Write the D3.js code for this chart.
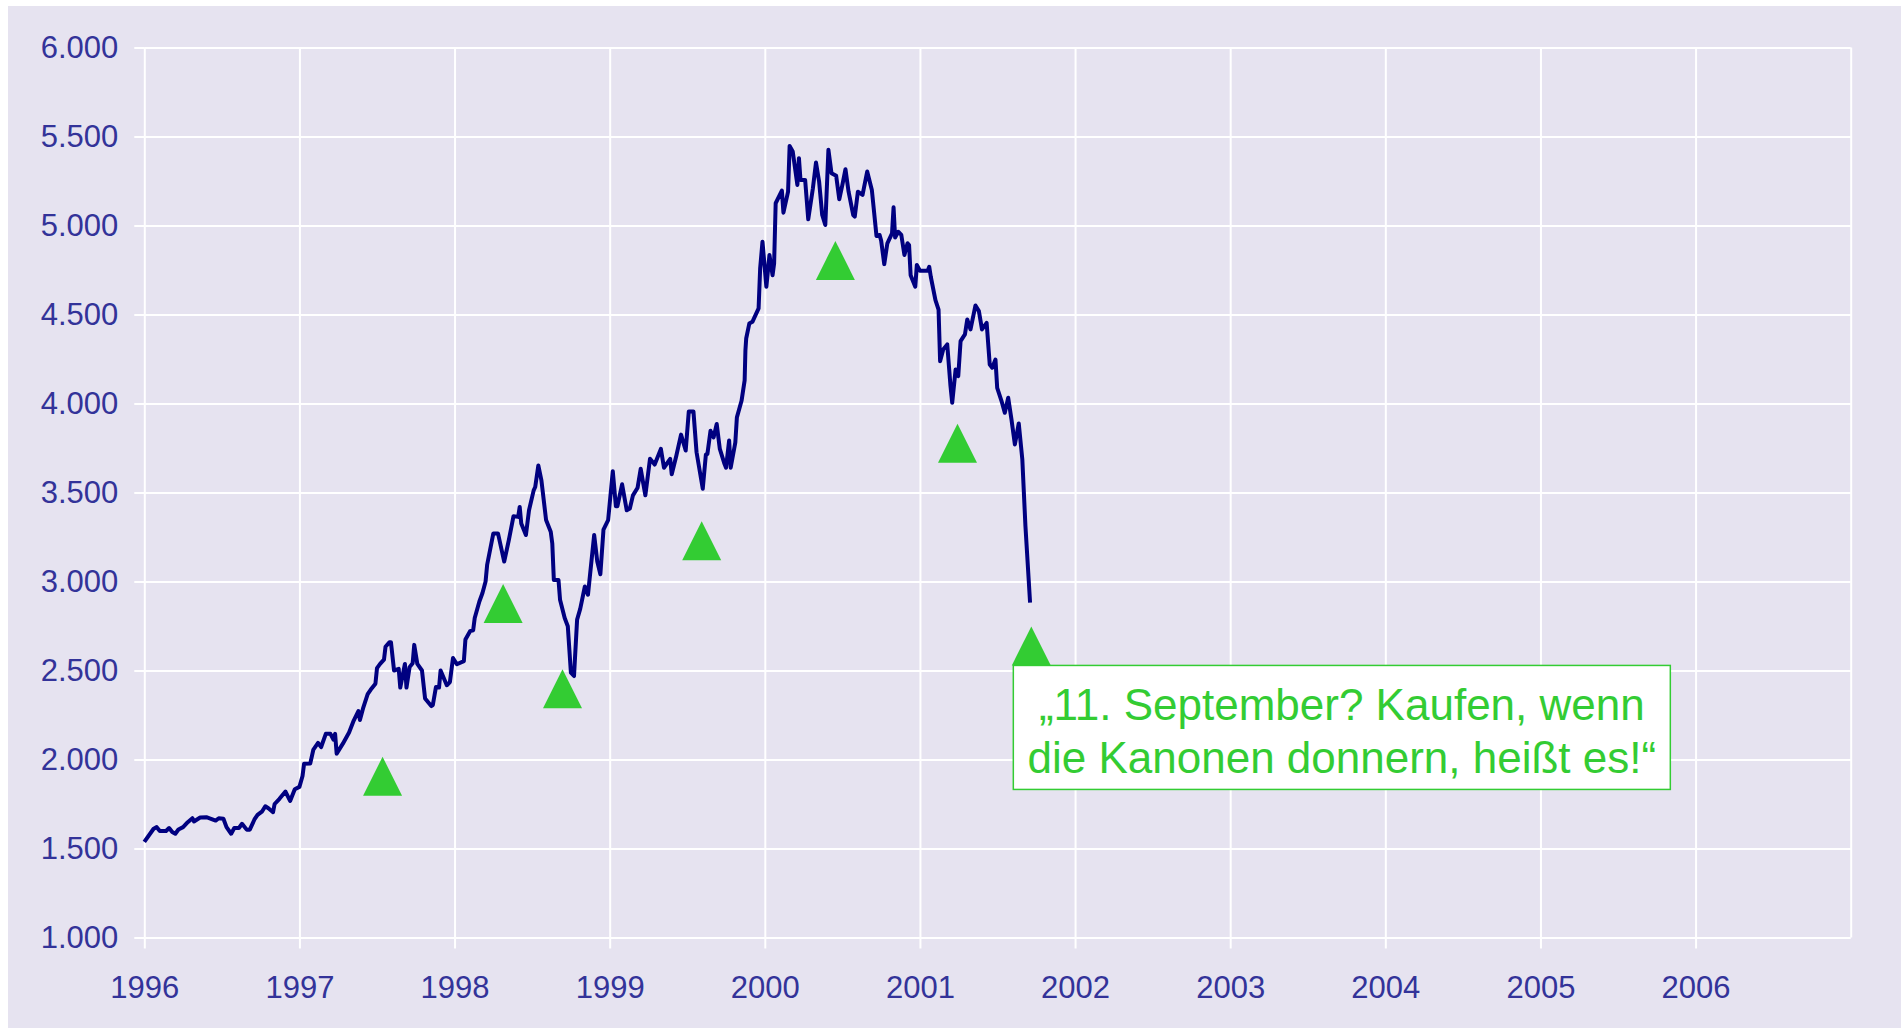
<!DOCTYPE html>
<html>
<head>
<meta charset="utf-8">
<script src="https://cdn.jsdelivr.net/npm/d3@7"></script>
<style>
  body { margin: 0; background: #ffffff; }
  svg { display: block; font-family: "Liberation Sans", Arial, sans-serif; }
  .grid line { stroke: #ffffff; stroke-width: 2; }
  .grid .domain { display: none; }
  .axis text { fill: #333399; font-size: 31px; }
  .axis line { stroke: #ffffff; stroke-width: 2; }
  .axis .domain { display: none; }
</style>
</head>
<body>
<script>

// index values (decimal years)
var weekYears = [
  1996.00, 1996.06, 1996.08, 1996.10, 1996.14, 1996.16, 1996.18, 1996.20, 1996.22, 1996.25,
  1996.28, 1996.31, 1996.32, 1996.36, 1996.40, 1996.43, 1996.46, 1996.48, 1996.51, 1996.53,
  1996.56, 1996.58, 1996.61, 1996.63, 1996.66, 1996.68, 1996.71, 1996.73, 1996.76, 1996.78,
  1996.80, 1996.83, 1996.84, 1996.87, 1996.91, 1996.94, 1996.97, 1997.00, 1997.02, 1997.03,
  1997.07, 1997.09, 1997.12, 1997.14, 1997.17, 1997.20, 1997.22, 1997.23, 1997.24, 1997.28,
  1997.32, 1997.35, 1997.38, 1997.39, 1997.41, 1997.44, 1997.46, 1997.49, 1997.50, 1997.52,
  1997.545, 1997.555, 1997.58, 1997.59, 1997.61, 1997.64, 1997.65, 1997.68, 1997.69, 1997.71,
  1997.73, 1997.74, 1997.76, 1997.79, 1997.81, 1997.85, 1997.86, 1997.88, 1997.90, 1997.91,
  1997.95, 1997.97, 1997.99, 1998.015, 1998.06, 1998.07, 1998.10, 1998.12, 1998.13, 1998.16,
  1998.18, 1998.20, 1998.21, 1998.25, 1998.28, 1998.32, 1998.35, 1998.38, 1998.41, 1998.42,
  1998.43, 1998.46, 1998.48, 1998.51, 1998.52, 1998.54, 1998.56, 1998.59, 1998.62, 1998.63,
  1998.64, 1998.67, 1998.68, 1998.71, 1998.73, 1998.75, 1998.77, 1998.79, 1998.81, 1998.84,
  1998.86, 1998.90, 1998.92, 1998.94, 1998.96, 1998.99, 1999.02, 1999.04, 1999.05, 1999.08,
  1999.11, 1999.13, 1999.15, 1999.18, 1999.20, 1999.23, 1999.26, 1999.29, 1999.33, 1999.35,
  1999.39, 1999.40, 1999.43, 1999.46, 1999.49, 1999.51, 1999.54, 1999.56, 1999.60, 1999.62,
  1999.63, 1999.65, 1999.67, 1999.69, 1999.71, 1999.74, 1999.75, 1999.77, 1999.78, 1999.81,
  1999.82, 1999.85, 1999.87, 1999.875, 1999.88, 1999.90, 1999.92, 1999.96, 1999.97, 1999.985,
  2000.01, 2000.03, 2000.05, 2000.06, 2000.07, 2000.11, 2000.12, 2000.15, 2000.16, 2000.18,
  2000.21, 2000.22, 2000.23, 2000.26, 2000.28, 2000.31, 2000.33, 2000.35, 2000.37, 2000.39,
  2000.41, 2000.43, 2000.46, 2000.48, 2000.50, 2000.52, 2000.54, 2000.57, 2000.58, 2000.60,
  2000.63, 2000.66, 2000.69, 2000.72, 2000.74, 2000.75, 2000.77, 2000.79, 2000.82, 2000.83,
  2000.84, 2000.86, 2000.88, 2000.90, 2000.92, 2000.93, 2000.94, 2000.97, 2000.98, 2001.00,
  2001.05, 2001.06, 2001.07, 2001.10, 2001.12, 2001.13, 2001.15, 2001.176, 2001.197, 2001.208,
  2001.23, 2001.247, 2001.262, 2001.29, 2001.305, 2001.326, 2001.358, 2001.38, 2001.40, 2001.43,
  2001.45, 2001.466, 2001.487, 2001.498, 2001.526, 2001.547, 2001.569, 2001.59, 2001.612, 2001.637,
  2001.66, 2001.68, 2001.71
];

var indexValues = [
  1537, 1611, 1620, 1598, 1598, 1615, 1593, 1583, 1607, 1620,
  1648, 1670, 1652, 1674, 1676, 1667, 1657, 1670, 1667, 1620,
  1583, 1615, 1615, 1639, 1606, 1606, 1663, 1689, 1709, 1737,
  1726, 1704, 1750, 1778, 1820, 1767, 1833, 1846, 1907, 1976,
  1978, 2056, 2093, 2070, 2144, 2144, 2111, 2144, 2033, 2089,
  2152, 2219, 2272, 2222, 2287, 2367, 2393, 2426, 2513, 2537,
  2561, 2633, 2659, 2659, 2500, 2509, 2404, 2537, 2404, 2519,
  2541, 2644, 2537, 2500, 2343, 2300, 2306, 2407, 2404, 2500,
  2417, 2435, 2570, 2535, 2553, 2674, 2721, 2726, 2795, 2888,
  2935, 3000, 3093, 3270, 3270, 3112, 3233, 3367, 3363, 3419,
  3326, 3261, 3400, 3512, 3531, 3652, 3568, 3345, 3279, 3214,
  3009, 3009, 2898, 2795, 2749, 2488, 2469, 2786, 2846, 2972,
  2926, 3261, 3112, 3041, 3292, 3345, 3620, 3423, 3423, 3546,
  3400, 3410, 3484, 3527, 3633, 3484, 3689, 3657, 3745, 3639,
  3689, 3602, 3708, 3825, 3736, 3955, 3955, 3726, 3521, 3713,
  3717, 3847, 3810, 3885, 3745, 3661, 3639, 3792, 3639, 3782,
  3922, 4015, 4130, 4299, 4365, 4449, 4459, 4534, 4759, 4909,
  4656, 4834, 4721, 4787, 5125, 5196, 5072, 5190, 5447, 5416,
  5228, 5378, 5256, 5256, 5035, 5209, 5354, 5247, 5059, 5003,
  5425, 5294, 5279, 5147, 5228, 5316, 5190, 5059, 5050, 5190,
  5172, 5303, 5200, 4941, 4947, 4915, 4783, 4900, 4956, 5102,
  4933, 4965, 4947, 4834, 4900, 4890, 4721, 4656, 4778, 4746,
  4746, 4768, 4712, 4581, 4528, 4238, 4304, 4332, 4098, 4004,
  4191, 4154, 4350, 4388, 4472, 4416, 4551, 4519, 4416, 4453,
  4219, 4201, 4247, 4088, 4014, 3948, 4032, 3911, 3770, 3888,
  3686, 3312, 2882
];

// green triangle markers
var markerYears = [1997.536, 1998.313, 1998.696, 1999.593, 2000.455, 2001.242, 2001.718];
var markerValues = [1906, 2877, 2397, 3229, 4804, 3777, 2638];

var xTickYears = [1996, 1997, 1998, 1999, 2000, 2001, 2002, 2003, 2004, 2005, 2006];
var yTickValues = [1000, 1500, 2000, 2500, 3000, 3500, 4000, 4500, 5000, 5500, 6000];

var noteLines = ["\u201E11. September? Kaufen, wenn", "die Kanonen donnern, hei\u00DFt es!\u201C"];

var svgWidth = 1901;
var svgHeight = 1028;

var margin = { top: 47.5, right: 50.3, bottom: 90.5, left: 144.3 };
var chartwidth = svgWidth - margin.left - margin.right;
var chartheight = svgHeight - margin.top - margin.bottom;

var svg = d3.select("body")
  .append("svg")
  .attr("width", svgWidth)
  .attr("height", svgHeight);

// lavender panel
svg.append("rect")
  .attr("x", 8)
  .attr("y", 6)
  .attr("width", svgWidth - 8)
  .attr("height", svgHeight - 6)
  .attr("fill", "#e6e3f0");

var chartGroup = svg.append("g")
  .attr("transform", `translate(${margin.left}, ${margin.top})`);

var xScale = d3.scaleLinear()
  .domain([1996, 2007])
  .range([0, chartwidth]);

var yScale = d3.scaleLinear()
  .domain([1000, 6000])
  .range([chartheight, 0]);

var de = d3.formatLocale({ decimal: ",", thousands: ".", grouping: [3], currency: ["", " €"] });
var fmt = de.format(",");

// gridlines
chartGroup.append("g")
  .attr("class", "grid")
  .call(d3.axisLeft(yScale).tickValues(yTickValues).tickSize(-chartwidth).tickFormat(""));

chartGroup.append("g")
  .attr("class", "grid")
  .attr("transform", `translate(0, ${chartheight})`)
  .call(d3.axisBottom(xScale).tickValues(xTickYears.concat([2007])).tickSize(chartheight).tickFormat(""))
  .selectAll("line")
  .attr("y2", -chartheight);

// axes with outside ticks
chartGroup.append("g")
  .attr("class", "axis")
  .call(d3.axisLeft(yScale).tickValues(yTickValues).tickSize(10).tickSizeOuter(0).tickPadding(16).tickFormat(fmt));

chartGroup.append("g")
  .attr("class", "axis")
  .attr("transform", `translate(0, ${chartheight})`)
  .call(d3.axisBottom(xScale).tickValues(xTickYears).tickSize(11).tickSizeOuter(0).tickPadding(27).tickFormat(d3.format("d")));

// index line
var series = weekYears.map(function(t, i) { return { t: t, v: indexValues[i] }; });

var line = d3.line()
  .x(d => xScale(d.t))
  .y(d => yScale(d.v));

chartGroup.append("path")
  .datum(series)
  .attr("d", line)
  .attr("fill", "none")
  .attr("stroke", "#000080")
  .attr("stroke-width", 4)
  .attr("stroke-linejoin", "round");

// triangles
var markers = markerYears.map(function(t, i) { return { t: t, v: markerValues[i] }; });
var tw = 39, th = 39;

chartGroup.selectAll(".marker")
  .data(markers)
  .enter()
  .append("path")
  .attr("class", "marker")
  .attr("d", function(d) {
    var cx = xScale(d.t), cy = yScale(d.v);
    return `M${cx},${cy - th / 2}L${cx + tw / 2},${cy + th / 2}L${cx - tw / 2},${cy + th / 2}Z`;
  })
  .attr("fill", "#33cc33");

// note box under the last triangle
var last = markers[markers.length - 1];
var boxX = xScale(last.t) - 18;
var boxY = yScale(last.v) + th / 2;
var boxW = 657, boxH = 124;

var note = chartGroup.append("g")
  .attr("transform", `translate(${boxX}, ${boxY})`);

note.append("rect")
  .attr("width", boxW)
  .attr("height", boxH)
  .attr("fill", "#ffffff")
  .attr("stroke", "#33cc33")
  .attr("stroke-width", 1.5);

note.selectAll("text")
  .data(noteLines)
  .enter()
  .append("text")
  .attr("x", boxW / 2)
  .attr("y", (d, i) => 55 + i * 53)
  .attr("text-anchor", "middle")
  .attr("fill", "#33cc33")
  .attr("font-size", "44px")
  .text(d => d);

</script>
</body>
</html>
